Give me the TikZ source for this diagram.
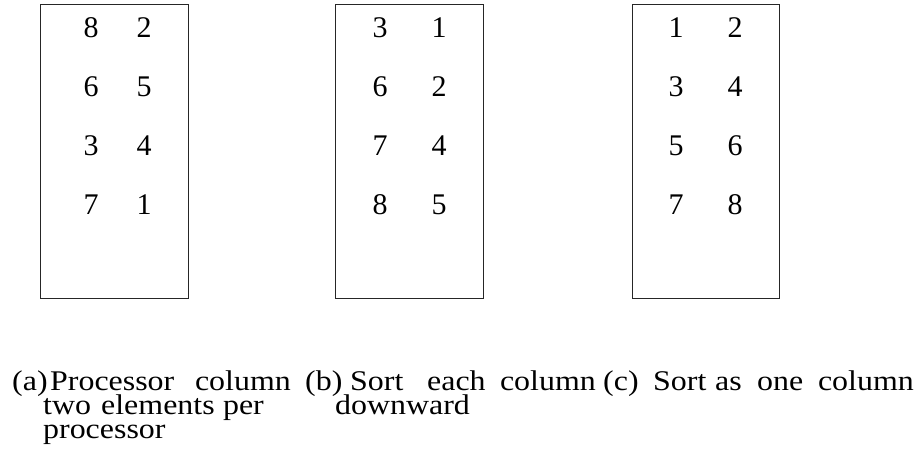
\documentclass[tikz,border=0pt]{standalone}
\usepackage{fontspec}
\setmainfont{Liberation Serif}
\newfontfamily\capfont[FakeStretch=1.12]{Liberation Serif}
\begin{document}
\begin{tikzpicture}[x=1pt,y=-1pt,
  procbox/.style={draw=black!85,line width=0.9pt},
  num/.style={anchor=base,inner sep=0pt,font=\fontsize{30}{30}\selectfont},
  captext/.style={anchor=base west,inner sep=0pt,font=\capfont\fontsize{28.5}{30}\selectfont},
  captextr/.style={captext,anchor=base east}]
\useasboundingbox (0,0) rectangle (921,459);
% boxes
\draw[procbox] (40,4) rectangle (188,298);
\draw[procbox] (335,4) rectangle (483,298);
\draw[procbox] (632,4) rectangle (779,298);
% box a
\node[num] (a11) at (91,37) {8};  \node[num] (a12) at (144,37) {2};
\node[num] (a21) at (91,96) {6};  \node[num] (a22) at (144,96) {5};
\node[num] (a31) at (91,155) {3}; \node[num] (a32) at (144,155) {4};
\node[num] (a41) at (91,214) {7}; \node[num] (a42) at (144,214) {1};
% box b
\node[num] (b11) at (380,37) {3};  \node[num] (b12) at (439,37) {1};
\node[num] (b21) at (380,96) {6};  \node[num] (b22) at (439,96) {2};
\node[num] (b31) at (380,155) {7}; \node[num] (b32) at (439,155) {4};
\node[num] (b41) at (380,214) {8}; \node[num] (b42) at (439,214) {5};
% box c
\node[num] (c11) at (676,37) {1};  \node[num] (c12) at (735,37) {2};
\node[num] (c21) at (676,96) {3};  \node[num] (c22) at (735,96) {4};
\node[num] (c31) at (676,155) {5}; \node[num] (c32) at (735,155) {6};
\node[num] (c41) at (676,214) {7}; \node[num] (c42) at (735,214) {8};
% captions
\node[captext] (ta1) at (12,390) {(a)};
\node[captext] (ta2) at (50,390) {Processor};
\node[captextr] (ta3) at (291,390) {column};
\node[captext] (ta4) at (43,414) {two};
\node[captext] (ta5) at (101,414) {elements};
\node[captextr] (ta6) at (264,414) {per};
\node[captext] (ta7) at (43,438) {processor};
\node[captext] (tb1) at (305,390) {(b)};
\node[captext] (tb2) at (350,390) {Sort};
\node[captext] (tb3) at (427,390) {each};
\node[captextr] (tb4) at (596,390) {column};
\node[captext] (tb5) at (335,414) {downward};
\node[captext] (tc1) at (603,390) {(c)};
\node[captext] (tc2) at (653,390) {Sort};
\node[captext] (tc3) at (715,390) {as};
\node[captext] (tc4) at (757,390) {one};
\node[captextr] (tc5) at (914,390) {column};
\end{tikzpicture}
\end{document}
